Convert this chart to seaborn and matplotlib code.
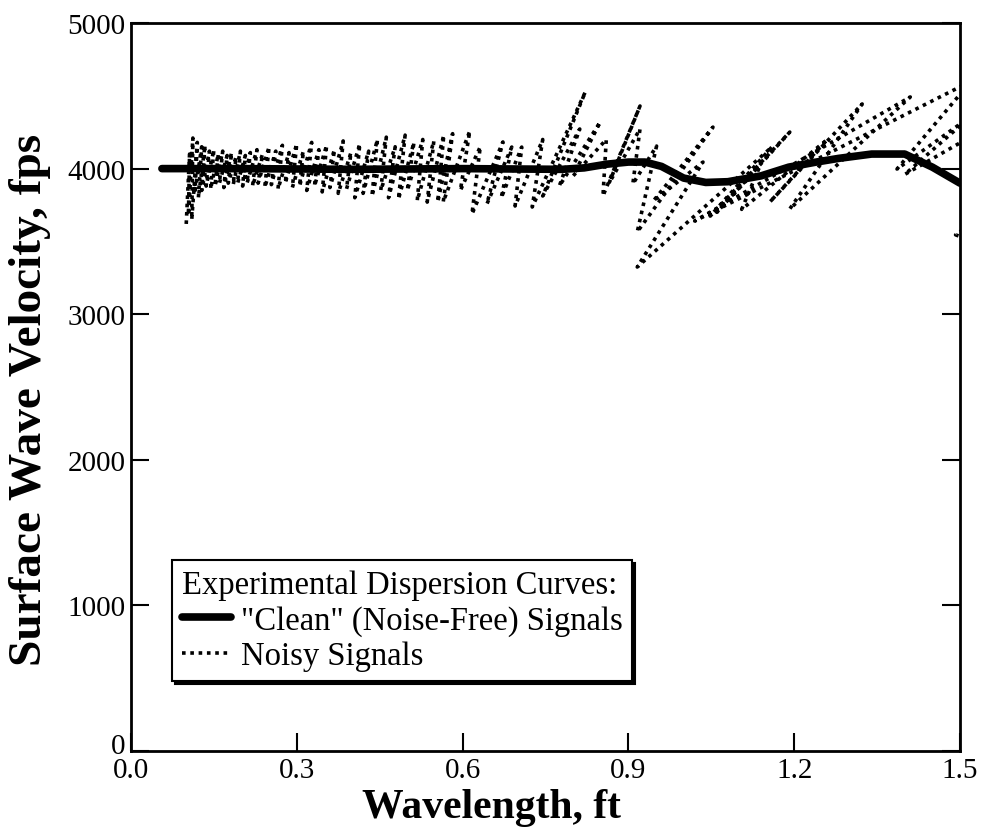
import numpy as np
import pandas as pd
import matplotlib
matplotlib.use("Agg")
import matplotlib.pyplot as plt
import matplotlib.transforms as mtransforms
import seaborn as sns

# Clean (noise-free) dispersion curve
clean_x = [0.056, 0.20, 0.40, 0.60, 0.78, 0.82, 0.86, 0.90, 0.93, 0.96, 1.00, 1.04,
           1.08, 1.14, 1.19, 1.24, 1.28, 1.34, 1.40, 1.45, 1.50]
clean_y = [4000, 4000, 3995, 4000, 3995, 4005, 4030, 4045, 4045, 4015, 3935, 3905,
           3910, 3950, 4010, 4045, 4070, 4100, 4100, 4010, 3900]

# Noisy dispersion curve (zigzag vertices)
noisy_x = [0.100, 0.106, 0.104, 0.112, 0.110, 0.120, 0.116, 0.128, 0.122, 0.134,
           0.128, 0.142, 0.136, 0.150, 0.144, 0.158, 0.152, 0.166, 0.160, 0.174,
           0.168, 0.182, 0.176, 0.190, 0.185, 0.198, 0.193, 0.207, 0.202, 0.216,
           0.210, 0.228, 0.220, 0.238, 0.230, 0.250, 0.242, 0.262, 0.254, 0.274,
           0.266, 0.286, 0.279, 0.300, 0.292, 0.312, 0.305, 0.327, 0.318, 0.340,
           0.332, 0.354, 0.346, 0.368, 0.360, 0.384, 0.375, 0.398, 0.390, 0.414,
           0.405, 0.430, 0.420, 0.446, 0.436, 0.462, 0.452, 0.478, 0.466, 0.496,
           0.484, 0.512, 0.500, 0.528, 0.518, 0.548, 0.536, 0.566, 0.555, 0.582,
           0.565, 0.613, 0.596, 0.632, 0.617, 0.673, 0.644, 0.689, 0.670, 0.707,
           0.695, 0.745, 0.726, 0.822, 0.745, 0.812, 0.775, 0.849, 0.800, 0.860,
           0.854, 0.921, 0.865, 0.921, 0.908, 0.951, 0.916, 1.053, 0.945, 1.035,
           0.916, 1.160, 1.048, 1.192, 1.060, 1.138, 1.105, 1.260, 1.156, 1.323,
           1.192, 1.410, 1.020, 1.520, 1.386, 1.520, 1.400, 1.520, 1.600, 1.492,
           1.550]
noisy_y = [3620, 4100, 3680, 4210, 3650, 4180, 3850, 4150, 3800, 4160,
           3850, 4120, 3880, 4130, 3860, 4100, 3880, 4120, 3900, 4090,
           3870, 4110, 3900, 4080, 3890, 4120, 3900, 4090, 3880, 4110,
           3900, 4130, 3880, 4100, 3900, 4150, 3870, 4120, 3890, 4160,
           3860, 4110, 3900, 4170, 3870, 4120, 3880, 4180, 3850, 4130,
           3880, 4160, 3840, 4130, 3870, 4190, 3830, 4110, 3860, 4170,
           3800, 4120, 3830, 4200, 3810, 4216, 3850, 4150, 3800, 4230,
           3790, 4180, 3850, 4200, 3780, 4190, 3770, 4230, 3770, 4240,
           3771, 4258, 3850, 4150, 3688, 4183, 3757, 4148, 3800, 4148,
           3743, 4200, 3736, 4526, 3812, 4272, 3880, 4320, 3950, 4200,
           3812, 4430, 3900, 4272, 3894, 4155, 3565, 4285, 3777, 4045,
           3324, 4150, 3674, 4251, 3700, 4018, 3720, 4200, 3771, 4444,
           3723, 4492, 3640, 4600, 3997, 4360, 3960, 4220, 3400, 3545,
           3700]

x_ticks = [0.0, 0.3, 0.6, 0.9, 1.2, 1.5]
y_ticks = [0, 1000, 2000, 3000, 4000, 5000]

clean = pd.DataFrame({"Wavelength": clean_x, "Velocity": clean_y})
noisy = pd.DataFrame({"Wavelength": noisy_x, "Velocity": noisy_y})

sns.set_style("ticks")
plt.rcParams["font.family"] = ["Liberation Serif", "DejaVu Serif"]
plt.rcParams["text.color"] = "black"
plt.rcParams["axes.labelcolor"] = "black"

fig = plt.figure(figsize=(9.81, 8.37), dpi=100)
ax = fig.add_axes([0.1335, 0.1016, 0.8451, 0.8697])

sns.lineplot(data=noisy, x="Wavelength", y="Velocity", sort=False, estimator=None,
             color="black", linewidth=2.6, linestyle=(0, (1, 1.3)), ax=ax,
             label="Noisy Signals", zorder=2)
sns.lineplot(data=clean, x="Wavelength", y="Velocity", sort=False, estimator=None,
             color="black", linewidth=5.5, ax=ax,
             label='"Clean" (Noise-Free) Signals', zorder=3)

ax.set_xlim(0, 1.5)
ax.set_ylim(0, 5000)
ax.set_xticks(x_ticks)
ax.set_xticklabels([f"{t:.1f}" for t in x_ticks])
ax.set_yticks(y_ticks)
ax.set_yticklabels([str(t) for t in y_ticks])
ax.tick_params(direction="in", length=13, width=1.5, labelsize=21, pad=4,
               right=True, top=False, colors="black")
for s in ax.spines.values():
    s.set_linewidth(2)
    s.set_color("black")

# lift the "0" y label a little so it clears "0.0"
zero_lab = ax.get_yticklabels()[0]
zero_lab.set_transform(zero_lab.get_transform() +
                       mtransforms.ScaledTranslation(0, 6 / 72, fig.dpi_scale_trans))

ax.set_xlabel("Wavelength, ft", fontsize=30, fontweight="bold", va="center")
ax.xaxis.set_label_coords(0.435, -0.077)
ax.set_ylabel("Surface Wave Velocity, fps", fontsize=34, fontweight="bold", va="center")
ax.yaxis.set_label_coords(-0.122, 0.483)

handles, labels = ax.get_legend_handles_labels()
leg = ax.legend(handles[::-1], labels[::-1], title="Experimental Dispersion Curves:",
                loc="lower left", bbox_to_anchor=(0.0495, 0.096), fontsize=23.5,
                title_fontsize=23.5, frameon=True, fancybox=False,
                shadow={"color": "black", "alpha": 1}, handlelength=1.5,
                handletextpad=0.3, borderpad=0.3, labelspacing=0.15,
                borderaxespad=0, alignment="left", labelcolor="black")
leg.get_title().set_color("black")
leg.get_frame().set_edgecolor("black")
leg.get_frame().set_linewidth(1.5)

fig.savefig("out.png", dpi=100)
